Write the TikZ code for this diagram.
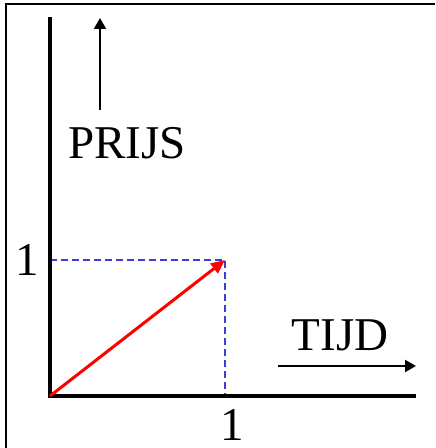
\documentclass[tikz,border=0pt]{standalone}
\usepackage{fontspec}
\setmainfont{Liberation Serif}
\usepackage{tikz}
\usetikzlibrary{arrows.meta,positioning}

\begin{document}
\begin{tikzpicture}[
    x=0.5pt,y=0.5pt,
    lbl/.style={inner sep=0pt,font=\fontsize{23.5}{26}\selectfont},
    axis/.style={line width=2pt,line cap=rect},
    hulp/.style={dashed,line width=1pt,dash pattern=on 3.5pt off 2pt,color=stippel},
    vec/.style={-{Triangle[length=7pt,width=6pt]},line width=1.5pt,red},
    dir/.style={-{Triangle[length=5.5pt,width=6pt]},line width=1.1pt}
  ]
    \definecolor{stippel}{RGB}{60,60,215}
    \useasboundingbox (0,0) rectangle (435,448);
    % kader
    \draw[line width=0.8pt] (6,0) -- (6,444) -- (435,444);
    % assen
    \coordinate (o) at (50,52);
    \coordinate (ytop) at (50,429);
    \coordinate (xend) at (414,52);
    \coordinate (p) at (225,188);
    \coordinate (px) at (225,52);
    \coordinate (py) at (50,188);
    \draw[hulp] (py) -- (p) -- (px);
    \draw[axis] (ytop) -- (o) -- (xend);
    \draw[vec] (o) -- (p);
    % labels
    \node[lbl] (prijs) at (127,305) {PRIJS};
    \node[lbl] (tijd) at (340,113) {TIJD};
    \node[lbl] (een-y) at (27,188) {1};
    \node[lbl] (een-x) at (232,23) {1};
    % richtingpijlen
    \coordinate (pstart) at (100,338);
    \coordinate (pend) at (100,430);
    \coordinate (tstart) at (278,82);
    \coordinate (tend) at (416,82);
    \draw[dir] (pstart) -- (pend);
    \draw[dir] (tstart) -- (tend);
  \end{tikzpicture}
\end{document}
